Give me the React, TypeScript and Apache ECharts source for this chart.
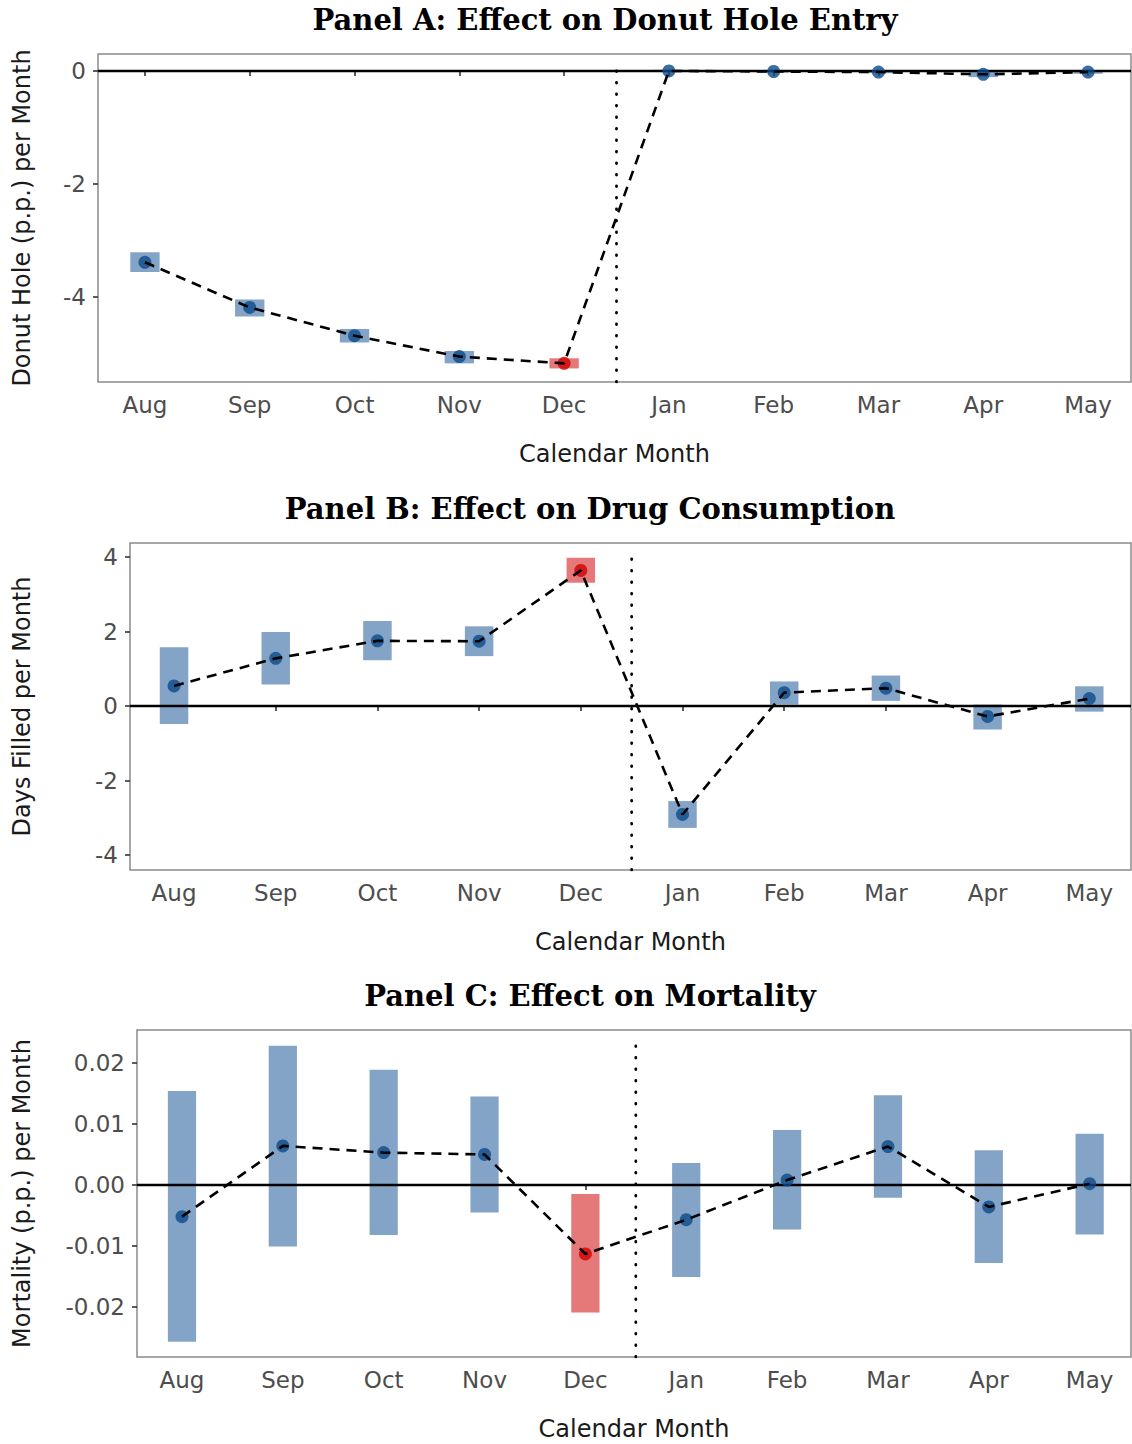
import React, { useEffect, useRef } from "react";
import * as echarts from "echarts";

// Calendar months on the horizontal axis (positions 1..10)
const months = ["Aug", "Sep", "Oct", "Nov", "Dec", "Jan", "Feb", "Mar", "Apr", "May"];
const monthPos = [1, 2, 3, 4, 5, 6, 7, 8, 9, 10];
const highlightIndex = 4; // December

// Panel A: donut hole entry (p.p.)
const donutEst = [-3.39, -4.19, -4.69, -5.06, -5.18, 0.0, -0.01, -0.02, -0.06, -0.02];
const donutLo = [-3.56, -4.35, -4.81, -5.18, -5.27, -0.02, -0.03, -0.04, -0.11, -0.05];
const donutHi = [-3.21, -4.05, -4.57, -4.96, -5.09, 0.02, 0.01, 0.0, -0.01, 0.01];

// Panel B: days filled per month
const drugEst = [0.54, 1.28, 1.75, 1.74, 3.64, -2.91, 0.36, 0.48, -0.28, 0.2];
const drugLo = [-0.48, 0.58, 1.23, 1.34, 3.31, -3.27, 0.04, 0.14, -0.63, -0.15];
const drugHi = [1.58, 1.99, 2.28, 2.14, 3.98, -2.55, 0.66, 0.82, 0.04, 0.53];

// Panel C: mortality (p.p.)
const mortEst = [-0.0052, 0.0064, 0.0053, 0.005, -0.0113, -0.0057, 0.0008, 0.0063, -0.0036, 0.0002];
const mortLo = [-0.0257, -0.0101, -0.0082, -0.0045, -0.0209, -0.0151, -0.0073, -0.0021, -0.0128, -0.0081];
const mortHi = [0.0154, 0.0228, 0.0189, 0.0145, -0.0015, 0.0036, 0.009, 0.0147, 0.0057, 0.0084];

// Tick values
const donutTicks = [-4, -2, 0];
const drugTicks = [-4, -2, 0, 2, 4];
const mortTicks = [-0.02, -0.01, 0, 0.01, 0.02];

const BLUE_BAND = "#84a4c7";
const RED_BAND = "#e57878";
const BLUE_DOT = "#0d4a8a";
const RED_DOT = "#d00000";
const HALF_W = 0.14;
const SANS = "DejaVu Sans";

type Panel = {
  title: string;
  titleX: number;
  titleY: number;
  yName: string;
  est: number[];
  lo: number[];
  hi: number[];
  ticks: number[];
  fmt: (v: number) => string;
  grid: { left: number; top: number; height: number };
  yMin: number;
  yMax: number;
  xMin: number;
  xMax: number;
  yNameGap: number;
};

const panels: Panel[] = [
  {
    title: "Panel A: Effect on Donut Hole Entry",
    titleX: 605,
    titleY: 20,
    yName: "Donut Hole (p.p.) per Month",
    est: donutEst,
    lo: donutLo,
    hi: donutHi,
    ticks: donutTicks,
    fmt: (v) => String(Math.round(v)),
    grid: { left: 98, top: 54, height: 328 },
    yMin: -5.51,
    yMax: 0.3,
    xMin: 0.552,
    xMax: 10.41,
    yNameGap: 64,
  },
  {
    title: "Panel B: Effect on Drug Consumption",
    titleX: 590,
    titleY: 509,
    yName: "Days Filled per Month",
    est: drugEst,
    lo: drugLo,
    hi: drugHi,
    ticks: drugTicks,
    fmt: (v) => String(Math.round(v)),
    grid: { left: 130, top: 543, height: 327 },
    yMin: -4.4,
    yMax: 4.376,
    xMin: 0.567,
    xMax: 10.41,
    yNameGap: 96,
  },
  {
    title: "Panel C: Effect on Mortality",
    titleX: 590,
    titleY: 996,
    yName: "Mortality (p.p.) per Month",
    est: mortEst,
    lo: mortLo,
    hi: mortHi,
    ticks: mortTicks,
    fmt: (v) => v.toFixed(2),
    grid: { left: 137, top: 1030, height: 327 },
    yMin: -0.0282,
    yMax: 0.0254,
    xMin: 0.554,
    xMax: 10.41,
    yNameGap: 103,
  },
];

function buildOption() {
  const grids: any[] = [];
  const xAxes: any[] = [];
  const yAxes: any[] = [];
  const series: any[] = [];
  const graphics: any[] = [];

  panels.forEach((p, i) => {
    grids.push({
      left: p.grid.left,
      top: p.grid.top,
      height: p.grid.height,
      right: 1,
      show: true,
      borderColor: "#8a8a8a",
      borderWidth: 1.5,
      containLabel: false,
    });

    xAxes.push({
      type: "value",
      gridIndex: i,
      min: p.xMin,
      max: p.xMax,
      axisLine: { show: false },
      splitLine: { show: false },
      axisTick: {
        show: true,
        customValues: monthPos,
        length: 5,
        lineStyle: { color: "#333", width: 1.6 },
      },
      axisLabel: {
        customValues: monthPos,
        formatter: (v: number) => months[Math.round(v) - 1],
        color: "#4d4d4d",
        fontSize: 23,
        fontFamily: SANS,
        margin: 11,
      },
      name: "Calendar Month",
      nameLocation: "middle",
      nameGap: 60,
      nameTextStyle: { color: "#1a1a1a", fontSize: 24, fontFamily: SANS },
    });

    yAxes.push({
      type: "value",
      gridIndex: i,
      min: p.yMin,
      max: p.yMax,
      axisLine: { show: false },
      splitLine: { show: false },
      axisTick: {
        show: true,
        customValues: p.ticks,
        length: 5,
        lineStyle: { color: "#333", width: 1.6 },
      },
      axisLabel: {
        customValues: p.ticks,
        formatter: (v: number) => p.fmt(v),
        color: "#4d4d4d",
        fontSize: 23,
        fontFamily: SANS,
        margin: 12,
      },
      name: p.yName,
      nameLocation: "middle",
      nameGap: p.yNameGap,
      nameTextStyle: { color: "#1a1a1a", fontSize: 24, fontFamily: SANS },
    });

    // confidence bands
    series.push({
      type: "custom",
      xAxisIndex: i,
      yAxisIndex: i,
      z: 1,
      data: monthPos.map((x, k) => [x, p.lo[k], p.hi[k], k === highlightIndex ? 1 : 0]),
      encode: { x: 0, y: [1, 2] },
      renderItem: (_params: any, api: any) => {
        const x = api.value(0);
        const a = api.coord([x - HALF_W, api.value(2)]);
        const b = api.coord([x + HALF_W, api.value(1)]);
        return {
          type: "rect",
          shape: { x: a[0], y: a[1], width: b[0] - a[0], height: Math.max(b[1] - a[1], 1) },
          style: { fill: api.value(3) ? RED_BAND : BLUE_BAND },
        };
      },
    });

    // zero reference line
    series.push({
      type: "line",
      xAxisIndex: i,
      yAxisIndex: i,
      z: 2,
      showSymbol: false,
      silent: true,
      data: [
        [p.xMin, 0],
        [p.xMax, 0],
      ],
      lineStyle: { color: "#000", width: 2.4, type: "solid" },
    });

    // dotted separator between December and January
    series.push({
      type: "line",
      xAxisIndex: i,
      yAxisIndex: i,
      z: 2,
      showSymbol: false,
      silent: true,
      data: [
        [5.5, p.yMin],
        [5.5, p.yMax - (p.yMax - p.yMin) * 0.02],
      ],
      lineStyle: { color: "#000", width: 2.8, type: [0.5, 11], cap: "round" },
    });

    // point estimates
    series.push({
      type: "scatter",
      xAxisIndex: i,
      yAxisIndex: i,
      z: 3,
      symbolSize: 13,
      data: monthPos.map((x, k) => ({
        value: [x, p.est[k]],
        itemStyle: { color: k === highlightIndex ? RED_DOT : BLUE_DOT },
      })),
    });

    // dashed connecting line
    series.push({
      type: "line",
      xAxisIndex: i,
      yAxisIndex: i,
      z: 4,
      showSymbol: false,
      silent: true,
      data: monthPos.map((x, k) => [x, p.est[k]]),
      lineStyle: { color: "#000", width: 2.6, type: [10, 7] },
    });

    graphics.push({
      type: "text",
      x: p.titleX,
      y: p.titleY,
      style: {
        text: p.title,
        font: "bold 29px 'DejaVu Serif'",
        fill: "#000",
        textAlign: "center",
        textVerticalAlign: "middle",
      },
    });
  });

  return {
    animation: false,
    backgroundColor: "#fff",
    grid: grids,
    xAxis: xAxes,
    yAxis: yAxes,
    series,
    graphic: graphics,
  };
}

export default function App() {
  const ref = useRef<HTMLDivElement>(null);
  useEffect(() => {
    if (!ref.current) return;
    const chart = echarts.init(ref.current, undefined, { renderer: "svg" });
    chart.setOption(buildOption());
    return () => chart.dispose();
  }, []);
  return (
    <div
      ref={ref}
      style={{ position: "absolute", left: 0, top: 0, width: 1132, height: 1444, background: "#fff" }}
    />
  );
}
